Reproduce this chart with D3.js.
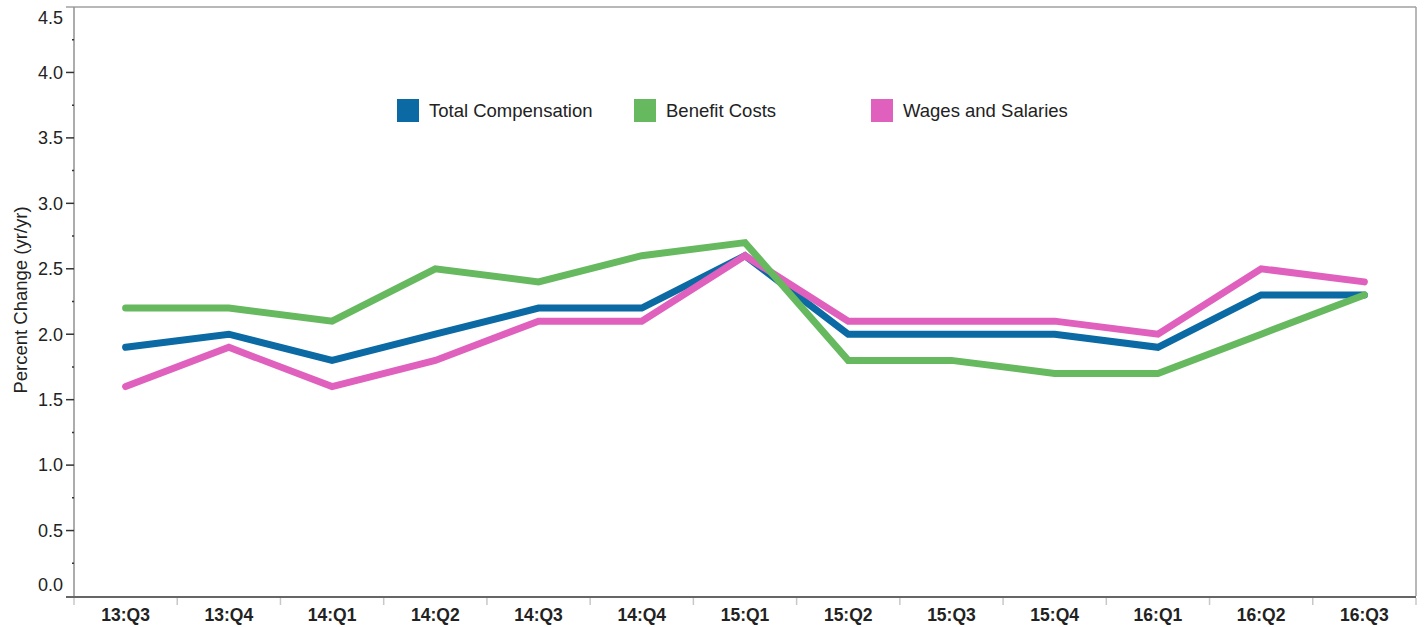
<!DOCTYPE html>
<html>
<head>
<meta charset="utf-8">
<script src="https://cdn.jsdelivr.net/npm/d3@7"></script>
<style>
  body { margin: 0; background: #fff; }
  svg { font-family: "Liberation Sans", Arial, sans-serif; }
</style>
</head>
<body>
<script>
var quarters = ["13:Q3","13:Q4","14:Q1","14:Q2","14:Q3","14:Q4","15:Q1","15:Q2","15:Q3","15:Q4","16:Q1","16:Q2","16:Q3"];
var totalComp = [1.9, 2.0, 1.8, 2.0, 2.2, 2.2, 2.6, 2.0, 2.0, 2.0, 1.9, 2.3, 2.3];
var benefitCosts = [2.2, 2.2, 2.1, 2.5, 2.4, 2.6, 2.7, 1.8, 1.8, 1.7, 1.7, 2.0, 2.3];
var wagesSalaries = [1.6, 1.9, 1.6, 1.8, 2.1, 2.1, 2.6, 2.1, 2.1, 2.1, 2.0, 2.5, 2.4];
var yTicks = [0, 0.5, 1.0, 1.5, 2.0, 2.5, 3.0, 3.5, 4.0, 4.5];

var series = [
  {name: "Total Compensation", values: totalComp, color: "#0b69a3"},
  {name: "Wages and Salaries", values: wagesSalaries, color: "#e060bd"},
  {name: "Benefit Costs", values: benefitCosts, color: "#66b95f"}
];
var legendItems = [
  {name: "Total Compensation", color: "#0b69a3", x: 397},
  {name: "Benefit Costs", color: "#66b95f", x: 634},
  {name: "Wages and Salaries", color: "#e060bd", x: 871}
];

var W = 1424, H = 627;
var m = {left: 74, right: 1416, top: 7, bottom: 596};

var svg = d3.select("body").append("svg")
  .attr("width", W).attr("height", H);

var x = d3.scaleBand().domain(quarters).range([m.left, m.right]);
var y = d3.scaleLinear().domain([0, 4.5]).range([m.bottom, m.top]);

// frame
svg.append("line").attr("x1", 66).attr("x2", m.right).attr("y1", m.top).attr("y2", m.top)
  .attr("stroke", "#a0a0a0").attr("stroke-width", 1.5);
svg.append("line").attr("x1", m.right).attr("x2", m.right).attr("y1", m.top).attr("y2", m.bottom)
  .attr("stroke", "#a0a0a0").attr("stroke-width", 1.5);

// y axis
svg.append("line").attr("x1", m.left).attr("x2", m.left).attr("y1", m.top).attr("y2", m.bottom)
  .attr("stroke", "#909090").attr("stroke-width", 1.5);

var minor = d3.range(0.25, 4.5, 0.5);
svg.selectAll(".minor").data(minor).enter().append("line")
  .attr("x1", m.left - 2).attr("x2", m.left)
  .attr("y1", function(d) { return y(d); }).attr("y2", function(d) { return y(d); })
  .attr("stroke", "#333").attr("stroke-width", 1.5);

svg.selectAll(".major").data(yTicks.slice(1, -1)).enter().append("line")
  .attr("x1", m.left - 8).attr("x2", m.left)
  .attr("y1", function(d) { return y(d); }).attr("y2", function(d) { return y(d); })
  .attr("stroke", "#333").attr("stroke-width", 1.5);

svg.selectAll(".ylab").data(yTicks).enter().append("text")
  .attr("x", m.left - 11)
  .attr("y", function(d) {
    var p = y(d);
    if (d === 0) p -= 11;
    if (d === 4.5) p += 11;
    return p;
  })
  .attr("dy", "0.35em")
  .attr("text-anchor", "end")
  .attr("font-size", 18)
  .attr("fill", "#222")
  .text(function(d) { return d.toFixed(1); });

svg.append("text")
  .attr("transform", "translate(27,300) rotate(-90)")
  .attr("text-anchor", "middle")
  .attr("font-size", 18.5)
  .attr("fill", "#222")
  .text("Percent Change (yr/yr)");

// x axis
svg.append("line").attr("x1", m.left - 8).attr("x2", m.right).attr("y1", m.bottom + 1).attr("y2", m.bottom + 1)
  .attr("stroke", "#333").attr("stroke-width", 1.5);

var xEdges = quarters.map(function(q) { return x(q); }).concat([m.right]);
svg.selectAll(".xtick").data(xEdges).enter().append("line")
  .attr("x1", function(d) { return d; }).attr("x2", function(d) { return d; })
  .attr("y1", m.bottom + 2).attr("y2", m.bottom + 9)
  .attr("stroke", "#c8c8c8").attr("stroke-width", 1.5);

svg.selectAll(".xlab").data(quarters).enter().append("text")
  .attr("x", function(d) { return x(d) + x.bandwidth() / 2; })
  .attr("y", 615)
  .attr("dy", "0.35em")
  .attr("text-anchor", "middle")
  .attr("font-size", 17.5)
  .attr("font-weight", "bold")
  .attr("fill", "#222")
  .text(function(d) { return d; });

// lines
var line = d3.line()
  .x(function(d, i) { return x(quarters[i]) + x.bandwidth() / 2; })
  .y(function(d) { return y(d); });

svg.selectAll(".series").data(series).enter().append("path")
  .attr("d", function(s) { return line(s.values); })
  .attr("fill", "none")
  .attr("stroke", function(s) { return s.color; })
  .attr("stroke-width", 7)
  .attr("stroke-linecap", "round")
  .attr("stroke-linejoin", "miter");

// legend
var lg = svg.selectAll(".legend").data(legendItems).enter().append("g")
  .attr("transform", function(d) { return "translate(" + d.x + ",99)"; });
lg.append("rect").attr("width", 22).attr("height", 23)
  .attr("fill", function(d) { return d.color; });
lg.append("text").attr("x", 32).attr("y", 12).attr("dy", "0.35em")
  .attr("font-size", 18.5).attr("fill", "#222")
  .text(function(d) { return d.name; });
</script>
</body>
</html>
